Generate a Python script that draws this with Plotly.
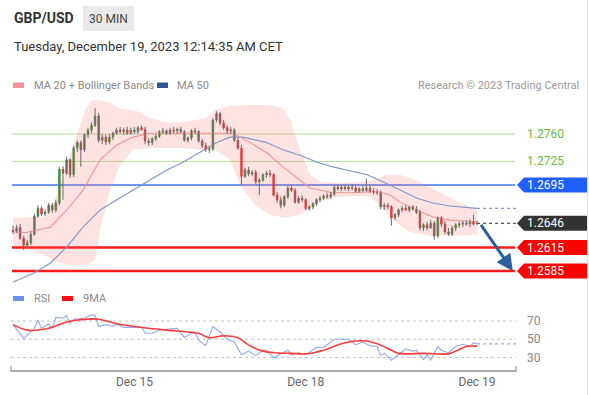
import plotly.graph_objects as go

W, H = 589, 395

# ---------------- data ----------------
# 30-minute candles, Dec 14 07:00 CET .. Dec 19 00:00 CET (weekend gap removed), index = bar number
tick_idx = [34, 82, 130]
tick_txt = ["Dec 15", "Dec 18", "Dec 19"]

opens = [1.2637,1.2636,1.2641,1.2627,1.2618,1.2621,1.2632,1.2655,1.2665,1.2658,
         1.2660,1.2669,1.2663,1.2672,1.2715,1.2710,1.2727,1.2708,1.2742,1.2749,
         1.2740,1.2759,1.2765,1.2771,1.2783,1.2752,1.2756,1.2750,1.2756,1.2761,
         1.2765,1.2763,1.2765,1.2761,1.2765,1.2763,1.2768,1.2766,1.2751,1.2749,
         1.2754,1.2757,1.2763,1.2764,1.2761,1.2765,1.2764,1.2766,1.2763,1.2752,
         1.2755,1.2764,1.2763,1.2751,1.2745,1.2740,1.2741,1.2778,1.2786,1.2774,
         1.2768,1.2764,1.2765,1.2752,1.2742,1.2706,1.2714,1.2709,1.2711,1.2699,
         1.2701,1.2708,1.2710,1.2708,1.2682,1.2676,1.2669,1.2680,1.2691,1.2688,
         1.2673,1.2678,1.2676,1.2665,1.2667,1.2671,1.2676,1.2678,1.2681,1.2680,
         1.2683,1.2692,1.2690,1.2692,1.2690,1.2692,1.2691,1.2687,1.2690,1.2688,
         1.2691,1.2687,1.2686,1.2685,1.2667,1.2669,1.2667,1.2653,1.2657,1.2663,
         1.2665,1.2663,1.2667,1.2664,1.2660,1.2640,1.2644,1.2640,1.2646,1.2630,
         1.2653,1.2645,1.2635,1.2632,1.2640,1.2644,1.2645,1.2646,1.2645,1.2648,
         1.2645]
highs = [1.2643,1.2644,1.2645,1.2630,1.2625,1.2635,1.2658,1.2669,1.2668,1.2664,
         1.2672,1.2672,1.2676,1.2718,1.2719,1.2731,1.2729,1.2745,1.2752,1.2752,
         1.2761,1.2768,1.2775,1.2793,1.2787,1.2760,1.2759,1.2760,1.2763,1.2768,
         1.2769,1.2768,1.2769,1.2768,1.2769,1.2770,1.2771,1.2769,1.2755,1.2756,
         1.2760,1.2765,1.2768,1.2766,1.2768,1.2769,1.2768,1.2769,1.2765,1.2757,
         1.2766,1.2768,1.2765,1.2754,1.2749,1.2745,1.2780,1.2789,1.2788,1.2778,
         1.2771,1.2769,1.2768,1.2756,1.2746,1.2717,1.2718,1.2714,1.2714,1.2704,
         1.2710,1.2713,1.2714,1.2710,1.2686,1.2680,1.2682,1.2694,1.2695,1.2691,
         1.2681,1.2682,1.2678,1.2669,1.2673,1.2678,1.2681,1.2683,1.2685,1.2686,
         1.2695,1.2696,1.2695,1.2695,1.2695,1.2696,1.2694,1.2692,1.2694,1.2703,
         1.2694,1.2691,1.2690,1.2688,1.2672,1.2672,1.2669,1.2659,1.2665,1.2668,
         1.2669,1.2668,1.2669,1.2668,1.2663,1.2646,1.2648,1.2650,1.2649,1.2655,
         1.2655,1.2649,1.2640,1.2643,1.2646,1.2648,1.2649,1.2650,1.2651,1.2657,
         1.2649]
lows = [1.2632,1.2634,1.2625,1.2612,1.2614,1.2618,1.2630,1.2653,1.2655,1.2655,
        1.2658,1.2659,1.2660,1.2669,1.2676,1.2708,1.2704,1.2705,1.2737,1.2718,
        1.2737,1.2755,1.2761,1.2769,1.2749,1.2747,1.2746,1.2747,1.2752,1.2759,
        1.2760,1.2759,1.2759,1.2759,1.2760,1.2760,1.2764,1.2747,1.2745,1.2746,
        1.2751,1.2755,1.2760,1.2759,1.2759,1.2761,1.2760,1.2761,1.2750,1.2749,
        1.2752,1.2760,1.2749,1.2742,1.2737,1.2736,1.2738,1.2775,1.2771,1.2765,
        1.2760,1.2760,1.2750,1.2740,1.2695,1.2704,1.2706,1.2706,1.2696,1.2682,
        1.2699,1.2704,1.2705,1.2680,1.2672,1.2665,1.2667,1.2677,1.2686,1.2671,
        1.2671,1.2673,1.2663,1.2662,1.2664,1.2668,1.2673,1.2676,1.2677,1.2677,
        1.2681,1.2688,1.2687,1.2688,1.2687,1.2688,1.2685,1.2685,1.2686,1.2686,
        1.2685,1.2683,1.2682,1.2664,1.2663,1.2664,1.2643,1.2650,1.2654,1.2660,
        1.2662,1.2660,1.2662,1.2658,1.2637,1.2636,1.2637,1.2639,1.2625,1.2627,
        1.2641,1.2632,1.2630,1.2630,1.2636,1.2640,1.2641,1.2643,1.2641,1.2643,
        1.2644]
closes = [1.2636,1.2640,1.2627,1.2618,1.2621,1.2632,1.2655,1.2665,1.2658,1.2660,
          1.2669,1.2663,1.2672,1.2715,1.2710,1.2727,1.2708,1.2742,1.2749,1.2740,
          1.2759,1.2765,1.2771,1.2783,1.2752,1.2756,1.2750,1.2756,1.2761,1.2765,
          1.2763,1.2765,1.2761,1.2765,1.2763,1.2768,1.2766,1.2751,1.2749,1.2754,
          1.2757,1.2763,1.2764,1.2761,1.2765,1.2764,1.2766,1.2763,1.2752,1.2755,
          1.2764,1.2763,1.2751,1.2745,1.2740,1.2741,1.2778,1.2786,1.2774,1.2768,
          1.2764,1.2765,1.2752,1.2742,1.2706,1.2714,1.2709,1.2711,1.2699,1.2701,
          1.2708,1.2710,1.2708,1.2682,1.2676,1.2669,1.2680,1.2691,1.2688,1.2673,
          1.2678,1.2676,1.2665,1.2667,1.2671,1.2676,1.2678,1.2681,1.2680,1.2683,
          1.2692,1.2690,1.2692,1.2690,1.2692,1.2691,1.2687,1.2690,1.2688,1.2691,
          1.2687,1.2686,1.2685,1.2667,1.2669,1.2667,1.2653,1.2657,1.2663,1.2665,
          1.2663,1.2667,1.2664,1.2660,1.2640,1.2644,1.2640,1.2646,1.2630,1.2653,
          1.2645,1.2635,1.2632,1.2640,1.2644,1.2645,1.2646,1.2645,1.2648,1.2645,
          1.2646]

bb_up_x = [0, 9, 11.8, 14.6, 17.4, 20.2, 22.1, 24.4, 27.2, 30, 35.6, 38.4, 42.6, 46.8, 51, 53.8,
           56.6, 60.8, 66.4, 72, 75.6, 77.6, 80.4, 83.2, 86, 91.6, 97.2, 101.4, 104.2, 108.4,
           114, 119.6, 125.2, 130]
bb_up = [1.2653, 1.2654, 1.2676, 1.2714, 1.2752, 1.2791, 1.2803, 1.2803, 1.2800, 1.2793, 1.2788,
         1.2780, 1.2775, 1.2775, 1.2778, 1.2780, 1.2791, 1.2796, 1.2797, 1.2797, 1.2793, 1.2778,
         1.2740, 1.2708, 1.2699, 1.2697, 1.2699, 1.2701, 1.2708, 1.2708, 1.2699, 1.2686, 1.2672,
         1.2663]
bb_lo_x = [0, 4.8, 9, 11.8, 16, 20.2, 23, 24.4, 27.2, 30, 33.6, 38.4, 46.8, 52.4, 56.6, 60.8,
           63.6, 67.8, 72, 76.2, 80.4, 84.6, 88.8, 94.4, 100, 102.8, 107, 111.2, 116.8, 122.4, 130]
bb_lo = [1.2618, 1.2612, 1.2605, 1.2597, 1.2593, 1.2593, 1.2599, 1.2637, 1.2688, 1.2720, 1.2740,
         1.2742, 1.2742, 1.2740, 1.2740, 1.2727, 1.2695, 1.2669, 1.2657, 1.2653, 1.2657, 1.2669,
         1.2678, 1.2681, 1.2680, 1.2669, 1.2648, 1.2635, 1.2630, 1.2630, 1.2631]
ma20_x = [0, 3.4, 10.4, 15.1, 19.6, 24.4, 29.1, 33.6, 38.4, 47.6, 57.1, 61.6, 66.4, 71.1, 75.6,
          80.4, 83.2, 89.6, 94.4, 99.2, 102.8, 105.6, 108.4, 113.2, 117.6, 122.4, 130]
ma20 = [1.2635, 1.2634, 1.2641, 1.2663, 1.2688, 1.2727, 1.2746, 1.2756, 1.2761, 1.2761, 1.2761,
        1.2761, 1.2749, 1.2736, 1.2718, 1.2701, 1.2691, 1.2685, 1.2685, 1.2686, 1.2686, 1.2682,
        1.2673, 1.2663, 1.2654, 1.2650, 1.2648]
ma50_x = [0, 5.6, 10.4, 15.1, 19.6, 24.4, 29.1, 33.6, 38.4, 43.1, 47.6, 52.4, 57.1, 60.8, 64.4,
          71.1, 75.6, 80.4, 85.2, 89.6, 94.4, 99.2, 103.6, 108.4, 113.2, 117.6, 122.4, 130]
ma50 = [1.2571, 1.2582, 1.2595, 1.2616, 1.2641, 1.2663, 1.2676, 1.2688, 1.2701, 1.2714, 1.2724,
        1.2737, 1.2749, 1.2756, 1.2756, 1.2749, 1.2740, 1.2733, 1.2724, 1.2718, 1.2713, 1.2708,
        1.2699, 1.2688, 1.2678, 1.2672, 1.2668, 1.2665]

rsi_x = [0, 3, 6, 7, 8, 10, 11, 12, 14, 15, 16, 17, 20, 22, 23, 24, 26, 28, 29, 31, 34, 36, 37,
         39, 41, 43, 46, 48, 50, 51, 52, 54, 56, 58, 60, 62, 64, 66, 68, 70, 71, 73, 77, 78, 80,
         82, 85, 87, 90, 94, 96, 98, 100, 102, 103, 104, 106, 108, 110, 112, 113, 115, 116, 117,
         119, 120, 122, 124, 126, 128, 129, 130]
rsi = [66, 51, 62, 71, 62, 67, 62, 74, 73, 76, 67, 72, 73, 77, 76, 64, 66, 64, 67, 63, 63, 64,
       56.5, 56.5, 60, 61, 62, 52, 56.5, 57, 49, 43, 64, 58, 50, 47, 33, 37, 32, 38, 38, 30, 38,
       33, 35, 33, 41, 41, 50, 50, 44, 47, 43, 42, 32, 35, 27, 33, 39.5, 37, 38, 28, 33, 27, 42,
       38, 35, 42, 44.5, 42, 46, 45]
rsi_ma_x = [0, 4, 10, 15, 21, 24, 29, 34, 38, 43, 49, 52, 55, 59, 63, 66, 70, 74, 78, 82, 87, 92,
            96, 99, 102, 106, 108, 115, 122, 124, 127, 130]
rsi_ma = [66, 60, 62, 69, 72, 72, 67, 64, 62, 60, 58, 56.5, 51.7, 53.9, 51.7, 43.6, 37, 35, 34.5,
          34, 38, 45, 48, 48, 45, 38, 34.5, 34.5, 34, 37, 42, 42.5]

green_levels = [1.2760, 1.2725]
blue_level = 1.2695
last_price = 1.2646
red_levels = [1.2615, 1.2585]
target_price = 1.2585
rsi_levels = [70, 50, 30]

# ---------------- layout helpers ----------------
def px(x):
    return x / W

def py(y):
    return 1 - y / H

FONT = "Roboto, 'Open Sans', Arial, sans-serif"
X_RANGE = [-0.56, 140.9]
X_DOMAIN = [px(11), px(516)]
last_idx = len(closes) - 1

fig = go.Figure()

# Bollinger band fill
fig.add_trace(go.Scatter(
    x=bb_up_x + bb_lo_x[::-1], y=bb_up + bb_lo[::-1],
    fill="toself", fillcolor="rgba(255,110,110,0.20)", line=dict(width=0),
    mode="lines", hoverinfo="skip", xaxis="x", yaxis="y"))
# MA 50
fig.add_trace(go.Scatter(x=ma50_x, y=ma50, mode="lines",
                         line=dict(color="#7d97c9", width=1.1), hoverinfo="skip"))
fig.add_trace(go.Scatter(x=[ma50_x[-1], X_RANGE[1]], y=[ma50[-1], ma50[-1]], mode="lines",
                         line=dict(color="#7d97c9", width=1.2, dash="dot"), hoverinfo="skip"))
# MA 20
fig.add_trace(go.Scatter(x=ma20_x, y=ma20, mode="lines",
                         line=dict(color="#f29393", width=1.1), hoverinfo="skip"))
# last price dotted
fig.add_trace(go.Scatter(x=[last_idx, X_RANGE[1]], y=[last_price, last_price], mode="lines",
                         line=dict(color="#555555", width=1.2, dash="dot"), hoverinfo="skip"))

# wicks (gray)
wx, wy = [], []
for i, (h, l) in enumerate(zip(highs, lows)):
    wx += [i, i, None]
    wy += [l, h, None]
fig.add_trace(go.Scatter(x=wx, y=wy, mode="lines", line=dict(color="#6b6b6b", width=1),
                         hoverinfo="skip"))
# bodies
body_hi = [max(o, c) for o, c in zip(opens, closes)]
body_lo = [min(o, c) for o, c in zip(opens, closes)]
fig.add_trace(go.Candlestick(
    x=list(range(len(closes))), open=opens, high=body_hi, low=body_lo, close=closes,
    increasing=dict(line=dict(color="#2f8a2f", width=0.6), fillcolor="#3a9a3a"),
    decreasing=dict(line=dict(color="#d62d2d", width=0.6), fillcolor="#de3030"),
    whiskerwidth=0, hoverinfo="skip", xaxis="x", yaxis="y"))

# RSI panel
for lv in rsi_levels:
    fig.add_trace(go.Scatter(x=X_RANGE, y=[lv, lv], mode="lines", yaxis="y2",
                             line=dict(color="#c4c4c4", width=1, dash="dot"), hoverinfo="skip"))
fig.add_trace(go.Scatter(x=rsi_x, y=rsi, mode="lines", yaxis="y2",
                         line=dict(color="#93aaf0", width=1.1), hoverinfo="skip"))
fig.add_trace(go.Scatter(x=[rsi_x[-1], X_RANGE[1]], y=[rsi[-1], rsi[-1]], mode="lines", yaxis="y2",
                         line=dict(color="#93aaf0", width=1.2, dash="dot"), hoverinfo="skip"))
fig.add_trace(go.Scatter(x=rsi_ma_x, y=rsi_ma, mode="lines", yaxis="y2",
                         line=dict(color="#ff3b3b", width=1.6, shape="spline"), hoverinfo="skip"))

shapes = []
# horizontal levels
for lv in green_levels:
    shapes.append(dict(type="line", xref="x domain", yref="y", x0=0.002, x1=0.998, y0=lv, y1=lv,
                       line=dict(color="#b5dd9b", width=1), layer="below"))
shapes.append(dict(type="line", xref="x domain", yref="y", x0=0.002, x1=0.998,
                   y0=blue_level, y1=blue_level, line=dict(color="#3f72f2", width=1.5), layer="below"))
for lv in red_levels:
    shapes.append(dict(type="line", xref="x domain", yref="y", x0=0.002, x1=0.998, y0=lv, y1=lv,
                       line=dict(color="#ff1a1a", width=2.5), layer="below"))

# price label boxes (pointed tags)
tag_path = "M 0,0 L 7,7.5 L 70,7.5 L 70,-7.5 L 7,-7.5 Z"
tags = [(blue_level, "#1f5fff"), (last_price, "#333333"),
        (red_levels[0], "#ff0000"), (red_levels[1], "#ff0000")]
for lv, col in tags:
    shapes.append(dict(type="path", xref="paper", yref="y", xsizemode="pixel", ysizemode="pixel",
                       xanchor=px(517), yanchor=lv, path=tag_path, fillcolor=col,
                       line=dict(width=0), layer="above"))

# header decorations
shapes.append(dict(type="rect", xref="paper", yref="paper", x0=px(83), x1=px(134), y0=py(31),
                   y1=py(6), fillcolor="#e9e9e9", line=dict(width=0)))
# legend swatches
shapes.append(dict(type="rect", xref="paper", yref="paper", x0=px(13), x1=px(24), y0=py(88),
                   y1=py(82.5), fillcolor="#f39595", line=dict(width=0)))
shapes.append(dict(type="rect", xref="paper", yref="paper", x0=px(157), x1=px(168), y0=py(88),
                   y1=py(82.5), fillcolor="#2f5597", line=dict(width=0)))
shapes.append(dict(type="rect", xref="paper", yref="paper", x0=px(13), x1=px(24), y0=py(301),
                   y1=py(296), fillcolor="#6f8ff0", line=dict(width=0)))
shapes.append(dict(type="rect", xref="paper", yref="paper", x0=px(62), x1=px(73), y0=py(301),
                   y1=py(296), fillcolor="#ff1010", line=dict(width=0)))
# axis end ticks
for xe in (11, 516):
    shapes.append(dict(type="line", xref="paper", yref="paper", x0=px(xe), x1=px(xe),
                       y0=py(366), y1=py(372), line=dict(color="#aaaaaa", width=1.5)))
# frame
shapes.append(dict(type="line", xref="paper", yref="paper", x0=px(587.5), x1=px(587.5),
                   y0=0, y1=1, line=dict(color="#e4e4e4", width=1)))

annotations = []
def text(x, y, s, size=11, color="#888888", anchor="left", bold=False):
    annotations.append(dict(xref="paper", yref="paper", x=px(x), y=py(y), text=f"<b>{s}</b>" if bold else s,
                            showarrow=False, xanchor=anchor, yanchor="middle",
                            font=dict(family=FONT, size=size, color=color)))

text(12, 18, "GBP/USD", size=14, color="#333333", bold=True)
text(108.5, 18.5, "30 MIN", size=12, color="#444444", anchor="center")
text(12, 47, "Tuesday, December 19, 2023 12:14:35 AM CET", size=13, color="#333333")
text(32, 85, "MA 20 + Bollinger Bands", size=11, color="#8a8a8a")
text(175, 85, "MA 50", size=11, color="#8a8a8a")
text(581, 85, "Research \u00a9 2023 Trading Central", size=11, color="#9a9a9a", anchor="right")
text(32, 298.5, "RSI", size=11, color="#8a8a8a")
text(81, 298.5, "9MA", size=11, color="#8a8a8a")

# level labels
for lv in green_levels:
    annotations.append(dict(xref="paper", yref="y", x=px(525), y=lv, text=f"{lv:.4f}", showarrow=False,
                            xanchor="left", yanchor="middle",
                            font=dict(family=FONT, size=12, color="#6cbb3c")))
for lv, col in tags:
    annotations.append(dict(xref="paper", yref="y", x=px(525), y=lv, text=f"{lv:.4f}", showarrow=False,
                            xanchor="left", yanchor="middle",
                            font=dict(family=FONT, size=12, color="#ffffff")))
for lv in rsi_levels:
    annotations.append(dict(xref="paper", yref="y2", x=px(525), y=lv, text=str(lv), showarrow=False,
                            xanchor="left", yanchor="middle",
                            font=dict(family=FONT, size=12, color="#888888")))

# forecast arrow
annotations.append(dict(xref="x", yref="y", x=140.0, y=target_price, axref="x", ayref="y",
                        ax=last_idx + 0.8, ay=last_price, text="", showarrow=True, arrowhead=2,
                        arrowsize=1.1, arrowwidth=3, arrowcolor="#2d5e9e", standoff=0))

fig.update_layout(
    width=W, height=H, margin=dict(l=0, r=0, t=0, b=0),
    paper_bgcolor="white", plot_bgcolor="rgba(0,0,0,0)", showlegend=False,
    font=dict(family=FONT),
    xaxis=dict(domain=X_DOMAIN, range=X_RANGE, anchor="y2", showgrid=False, zeroline=False,
               showline=True, linecolor="#aaaaaa", linewidth=1.5, ticks="",
               tickmode="array", tickvals=tick_idx, ticktext=tick_txt,
               tickfont=dict(family=FONT, size=12, color="#666666"),
               rangeslider=dict(visible=False), fixedrange=True),
    yaxis=dict(domain=[py(284), py(100)], range=[1.25685, 1.28034], visible=False,
               anchor="x", fixedrange=True),
    yaxis2=dict(domain=[py(370), py(305)], range=[16.3, 87.53], visible=False,
                anchor="x", fixedrange=True),
    shapes=shapes, annotations=annotations,
)

fig.write_html("out.html", config={"displayModeBar": False},
               post_script="document.body.style.margin='0';document.body.style.overflow='hidden';")
